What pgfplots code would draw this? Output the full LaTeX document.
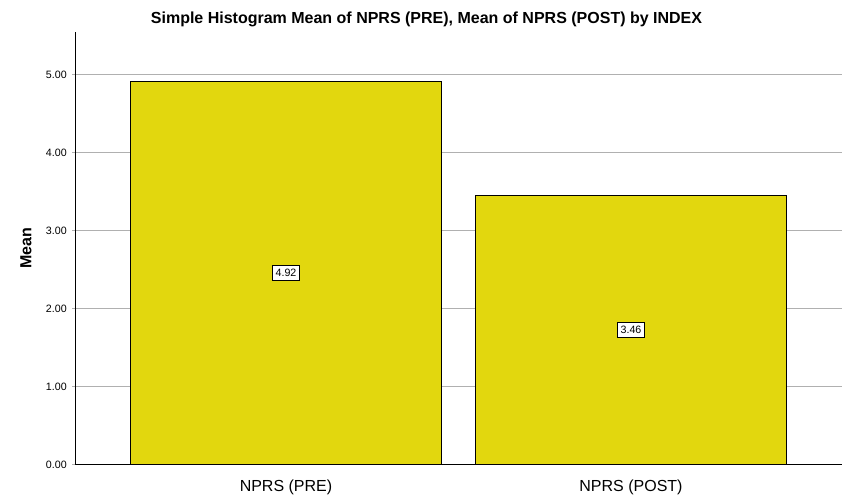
\documentclass[border=0pt]{standalone}
\usepackage{fontspec}
\setmainfont{Liberation Sans}
\usepackage{pgfplots}
\pgfplotsset{compat=1.18}
\definecolor{barcol}{RGB}{226,215,14}
\definecolor{gridcol}{RGB}{176,176,176}
\begin{document}
\begin{tikzpicture}[x=0.75pt,y=0.75pt]
\useasboundingbox (0,0) rectangle (853,503);
\begin{axis}[
  at={(56.25pt,28.5pt)}, anchor=south west,
  scale only axis, width=575.25pt, height=324.75pt,
  xmin=-0.6116, xmax=1.6116, ymin=0, ymax=5.551,
  axis x line=bottom, axis y line=left,
  axis line style={-, black, line width=0.75pt},
  xtick={0,1}, xticklabels={NPRS (PRE), NPRS (POST)},
  xtick style={draw=none},
  xticklabel style={font=\fontsize{12}{14}\selectfont, anchor=base, yshift=-18pt, inner sep=0pt},
  ytick={0,1,2,3,4,5},
  yticklabel style={font=\fontsize{8}{10}\selectfont, anchor=east, inner sep=0pt, xshift=-3.75pt},
  /pgf/number format/.cd, fixed, zerofill, precision=2, assume math mode=true, /pgfplots/.cd,
  ytick style={draw=gridcol, line width=0.75pt},
  tick align=outside, major tick length=2.25pt,
  ymajorgrids, grid style={draw=gridcol, line width=0.75pt},
  clip=false,
]
\addplot[ybar, bar width=0.9, fill=barcol, draw=black, line width=0.75pt] coordinates {(0,4.92) (1,3.46)};
\addplot[draw=none, mark=none, point meta=explicit,
  nodes near coords,
  nodes near coords style={anchor=center, draw=black, fill=white, line width=0.75pt, inner xsep=2pt, inner ysep=3pt,
    font=\fontsize{8}{9}\selectfont,
    /pgf/number format/.cd, fixed, zerofill, precision=2, assume math mode=true}]
  coordinates {(0,2.46) [4.92] (1,1.73) [3.46]};
\end{axis}
\node[font=\bfseries\fontsize{12}{14}\selectfont] at (426.5,484) {Simple Histogram Mean of NPRS (PRE), Mean of NPRS (POST) by INDEX};
\node[font=\bfseries\fontsize{12}{14}\selectfont, rotate=90] at (26,255) {Mean};
\end{tikzpicture}
\end{document}
